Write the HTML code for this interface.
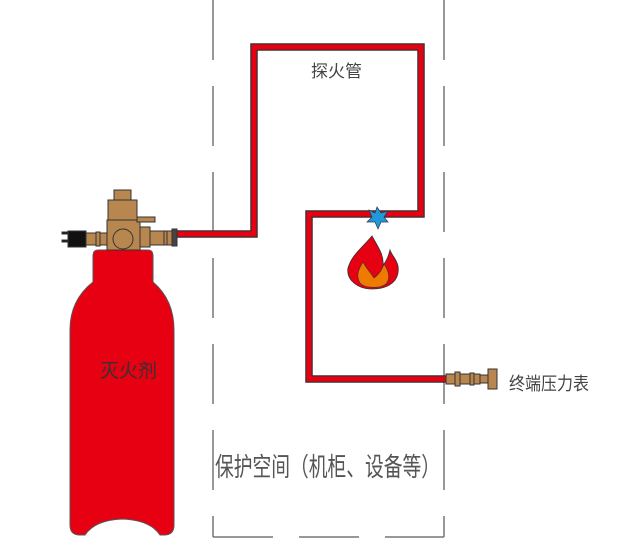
<!DOCTYPE html>
<html><head><meta charset="utf-8"><style>body{margin:0;background:#fff}svg{display:block}</style></head><body>
<svg width="640" height="551" viewBox="0 0 640 551" xmlns="http://www.w3.org/2000/svg" font-family="Liberation Sans, Noto Sans CJK SC, sans-serif">
<g stroke="#777" stroke-width="1.5" fill="none" stroke-dasharray="60 26">
<line x1="213" y1="0" x2="213" y2="537"/>
<line x1="444" y1="0" x2="444" y2="537"/>
<line x1="213" y1="537" x2="444" y2="537"/>
</g>
<polyline points="175,234 254,234 254,47 421,47 421,214 309,214 309,379 448,379" fill="none" stroke="#333" stroke-width="7.5"/>
<polyline points="175,234 254,234 254,47 421,47 421,214 309,214 309,379 448,379" fill="none" stroke="#e60012" stroke-width="5"/>
<path d="M98,250 H148 Q153,250 153,256 V282 Q174,300 174,330 V525 Q174,535 164,535 H160 Q150,520 122,519 Q95,520 85,535 H80 Q70,535 70,525 V330 Q70,300 93,282 V256 Q93,250 98,250 Z" fill="#e60012" stroke="#555" stroke-width="1"/>
<text x="100" y="377" font-size="19" fill="#333">灭火剂</text>
<g stroke="#333" stroke-width="1" fill="#b8874f">
<rect x="62" y="232" width="6" height="2" fill="#111"/><rect x="62" y="240" width="6" height="2" fill="#111"/>
<rect x="68" y="231" width="18" height="16" fill="#111"/>
<rect x="86" y="233" width="22" height="12"/>
<rect x="96" y="232" width="4" height="14"/>
<rect x="114" y="190" width="17" height="10"/>
<rect x="108" y="200" width="29" height="20"/>
<rect x="107" y="220" width="33" height="30"/>
<circle cx="123" cy="239" r="10"/>
<rect x="137" y="217" width="18" height="5"/>
<rect x="140" y="227" width="10" height="20"/>
<rect x="150" y="231" width="22" height="14"/>
<rect x="164" y="231" width="3" height="14"/>
<rect x="172" y="229" width="5" height="17" fill="#444"/>
</g>
<polygon points="377,207 381,213 388,211 384,217 388,222 381,222 378,229 375,222 367,222 372,217 369,210 375,213" fill="#1e9bd7" stroke="#335" stroke-width="0.7"/>
<path d="M372,236 C360,250 352,255 348,268 C346,280 358,289 372,289 C390,289 400,280 398,266 C396,258 392,256 390,250 C388,258 386,262 383,265 C384,255 378,247 372,236 Z" fill="#e60012" stroke="#333" stroke-width="0.8"/>
<path d="M363,262 C358,270 356,276 360,283 C364,288 380,289 386,284 C391,278 388,270 384,264 C382,270 378,275 374,278 C370,272 366,268 363,262 Z" fill="#ee7b00" stroke="#333" stroke-width="0.6"/>
<g stroke="#333" stroke-width="1" fill="#b8874f">
<rect x="446" y="374" width="34" height="10"/>
<rect x="455" y="372" width="5" height="14"/>
<rect x="470" y="373" width="4" height="12"/>
<rect x="488" y="369" width="9" height="20"/>
<rect x="480" y="375" width="8" height="8"/>
</g>
<text x="509" y="390" font-size="18" fill="#444" textLength="80" lengthAdjust="spacingAndGlyphs">终端压力表</text>
<text x="311" y="77" font-size="17" fill="#444">探火管</text>
<text x="215" y="476" font-size="26" fill="#555" textLength="225" lengthAdjust="spacingAndGlyphs">保护空间（机柜、设备等）</text>
</svg>
</body></html>
